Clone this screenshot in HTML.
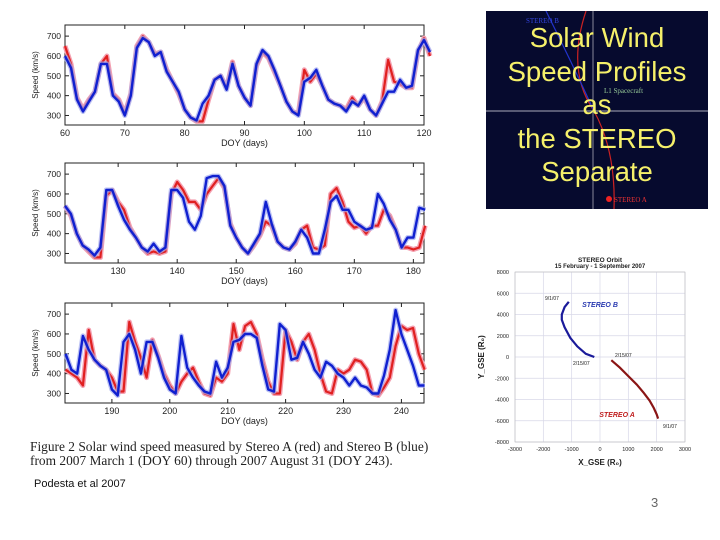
<!DOCTYPE html>
<html><head><meta charset="utf-8">
<style>
body{margin:0;width:720px;height:540px;background:#fff;position:relative;overflow:hidden;font-family:"Liberation Sans",sans-serif}
.abs{position:absolute}
</style></head><body>
<svg id="main" class="abs" style="left:0;top:0" width="720" height="540" xmlns="http://www.w3.org/2000/svg"></svg>
<div class="abs" style="left:486px;top:11px;width:222px;height:198px;background:#060a2e;overflow:hidden">
<svg width="222" height="198" style="position:absolute;left:0;top:0">
<line x1="0" y1="100" x2="222" y2="100" stroke="#aab" stroke-width="1"/>
<line x1="107" y1="0" x2="107" y2="198" stroke="#889" stroke-width="1"/>
<path d="M100,0 Q80,60 108,100 Q130,140 128,198" fill="none" stroke="#c22" stroke-width="1.2"/>
<path d="M60,0 Q85,50 108,100" fill="none" stroke="#23c" stroke-width="1.2"/>
<circle cx="123" cy="188" r="3" fill="#e22"/>
<text x="128" y="191" font-size="7" fill="#e33" font-family="Liberation Serif">STEREO A</text>
<text x="40" y="12" font-size="7" fill="#34d" font-family="Liberation Serif">STEREO B</text>
<text x="118" y="82" font-size="7" fill="#9c9" font-family="Liberation Serif">L1 Spacecraft</text>
</svg>
<div style="position:absolute;left:0;top:10px;width:222px;text-align:center;color:#f5f06a;font-size:27.5px;line-height:33.6px">Solar Wind<br>Speed Profiles<br>as<br>the STEREO<br>Separate</div>
</div>
<div class="abs" style="left:30px;top:440px;width:430px;white-space:nowrap;font-family:'Liberation Serif',serif;font-size:13.4px;line-height:14px;color:#222">Figure 2 Solar wind speed measured by Stereo A (red) and Stereo B (blue)<br>from 2007 March 1 (DOY 60) through 2007 August 31 (DOY 243).</div>
<div class="abs" style="left:34px;top:478px;font-size:11px;color:#111">Podesta et al 2007</div>
<div class="abs" style="left:651px;top:495px;font-size:13px;color:#666">3</div>
<script>
// Panel 1 data (DOY 60-121)
const p1Start=60;
const p1Blue=[600,540,380,320,370,420,560,560,400,370,300,400,640,690,670,600,620,520,470,420,330,290,275,360,400,480,500,430,560,450,390,350,560,630,600,530,450,370,320,300,470,490,530,450,380,360,350,320,370,350,400,330,300,360,420,420,480,440,450,630,680,620];
const p1Red=[650,560,390,330,380,420,560,600,410,380,310,410,650,700,670,610,620,530,470,410,330,290,270,270,380,480,500,440,570,450,390,350,550,620,590,520,450,370,320,310,530,470,510,450,380,360,350,330,390,350,390,330,300,370,580,470,460,440,440,620,690,600];
// Panel 2 data (DOY 121-182)
const p2Start=121;
const p2Blue=[540,500,400,340,320,290,330,620,620,540,470,420,380,330,310,350,310,330,620,620,580,460,420,490,680,690,690,640,440,380,330,300,350,400,560,450,360,330,320,360,420,380,300,300,420,560,590,520,520,460,440,420,430,600,550,470,420,330,380,380,530,520];
const p2Red=[540,490,400,340,310,280,280,590,620,560,520,430,380,330,300,310,300,310,600,660,620,560,560,520,600,640,680,630,450,380,330,300,340,390,460,440,360,330,320,350,420,440,330,320,340,600,630,560,460,430,440,400,440,440,520,490,420,330,330,320,330,440];
// Panel 3 data (DOY 182-244)
const p3Start=182;
const p3Blue=[500,420,400,590,520,470,440,420,320,290,560,600,520,400,560,560,480,380,320,300,590,430,380,340,310,300,460,380,430,560,570,600,600,580,440,320,310,650,620,470,480,560,500,420,380,460,440,400,380,340,380,340,330,300,300,390,520,720,600,520,440,340,340];
const p3Red=[420,400,380,340,620,470,440,420,380,310,310,660,560,480,380,570,490,400,340,300,360,400,430,360,300,290,380,360,400,650,520,640,660,600,470,360,300,300,620,560,470,560,600,520,400,310,300,420,400,420,470,460,420,300,290,330,380,540,640,620,630,500,420];
const yTicks=[300,400,500,600,700];
const p1XTicks=[60,70,80,90,100,110,120];
const p2XTicks=[130,140,150,160,170,180];
const p3XTicks=[190,200,210,220,230,240];
// Orbit data
const orbitXTicks=[-3000,-2000,-1000,0,1000,2000,3000];
const orbitYTicks=[8000,6000,4000,2000,0,-2000,-4000,-6000,-8000];
const bX=[-200,-500,-800,-1050,-1250,-1350,-1350,-1250,-1100];
const bY=[0,300,1000,1800,2800,3500,4000,4700,5200];
const aX=[400,700,1000,1300,1550,1750,1900,2000,2050];
const aY=[-300,-1000,-1800,-2600,-3400,-4100,-4800,-5400,-5800];

const NS='http://www.w3.org/2000/svg';
const svg=document.getElementById('main');
function mk(tag,attrs,parent){const e=document.createElementNS(NS,tag);for(const k in attrs)e.setAttribute(k,attrs[k]);(parent||svg).appendChild(e);return e;}
function txt(x,y,s,size,anchor,parent,extra){const t=mk('text',Object.assign({x:x,y:y,'font-size':size,'text-anchor':anchor||'middle',fill:'#222','font-family':'Liberation Sans, sans-serif'},extra||{}),parent);t.textContent=s;return t;}

function panel(idx,top,xmin,xmax,start,blue,red,xt){
  const L=65,R=424,T=top,B=top+100;
  const g=mk('g',{});
  
  
  const xs=d=>L+(d-xmin)/(xmax-xmin)*(R-L);
  const ys=v=>B-(v-252)/(756-252)*(B-T);
  mk('rect',{x:L,y:T,width:R-L,height:B-T,fill:'#fff',stroke:'#222','stroke-width':1},g);
  xt.forEach(d=>{const x=xs(d);mk('line',{x1:x,y1:B,x2:x,y2:B-4,stroke:'#222'},g);mk('line',{x1:x,y1:T,x2:x,y2:T+4,stroke:'#222'},g);
    const t=txt(x,B+11,String(d),9,'middle',g);});
  yTicks.forEach(v=>{const y=ys(v);mk('line',{x1:L,y1:y,x2:L+4,y2:y,stroke:'#222'},g);mk('line',{x1:R,y1:y,x2:R-4,y2:y,stroke:'#222'},g);
    const t=txt(L-4,y+3,String(v),8.5,'end',g);});
  const xl=txt((L+R)/2,B+21,'DOY (days)',9,'middle',g);
  const yl=txt(0,0,'Speed (km/s)',8,'middle',g,{transform:'translate('+(L-27)+','+(T+50)+') rotate(-90)'});
  
  const pts=arr=>arr.map((v,i)=>xs(start+i).toFixed(1)+','+ys(v).toFixed(1)).join(' ');
  const r1=mk('polyline',{points:pts(red),fill:'none',stroke:'#f4a0b0','stroke-width':5,'stroke-linejoin':'round'},g);
  
  const r=mk('polyline',{points:pts(red),fill:'none',stroke:'#e02020','stroke-width':2.2,'stroke-linejoin':'round'},g);
  
  const b1=mk('polyline',{points:pts(blue),fill:'none',stroke:'#a0a8f0','stroke-width':5,'stroke-linejoin':'round',opacity:0.7},g);
  
  const b=mk('polyline',{points:pts(blue),fill:'none',stroke:'#1020d0','stroke-width':2.4,'stroke-linejoin':'round'},g);
  
}
panel(1,25,60,120,p1Start,p1Blue,p1Red,p1XTicks);
panel(2,163,121,181.8,p2Start,p2Blue,p2Red,p2XTicks);
panel(3,303,181.9,243.9,p3Start,p3Blue,p3Red,p3XTicks);

// Orbit plot
(function(){
  const g=mk('g',{});
  
  
  const L=515,R=685,T=272,B=442;
  const xs=v=>600+v/1000*28.33;
  const ys=v=>357-v/2000*21.25;
  orbitXTicks.forEach(v=>{const x=xs(v);mk('line',{x1:x,y1:T,x2:x,y2:B,stroke:'#d8d8e8','stroke-width':0.7},g);
    const t=txt(x,B+9,String(v),5.5,'middle',g);});
  orbitYTicks.forEach(v=>{const y=ys(v);mk('line',{x1:L,y1:y,x2:R,y2:y,stroke:'#d8d8e8','stroke-width':0.7},g);
    const t=txt(L-6,y+2,String(v),5.5,'end',g);});
  mk('rect',{x:L,y:T,width:R-L,height:B-T,fill:'none',stroke:'#bbb','stroke-width':0.6},g);
  const pts=(X,Y)=>X.map((v,i)=>xs(v).toFixed(1)+','+ys(Y[i]).toFixed(1)).join(' ');
  const pb=mk('polyline',{points:pts(bX,bY),fill:'none',stroke:'#1a1a9a','stroke-width':2.2},g);
  
  const pa=mk('polyline',{points:pts(aX,aY),fill:'none',stroke:'#8a1515','stroke-width':2.2},g);
  
  let t;
  t=txt(600,262,'STEREO Orbit',6.5,'middle',g,{'font-weight':'bold'});
  t=txt(600,268,'15 February - 1 September 2007',6,'middle',g,{'font-weight':'bold'});
  t=txt(600,465,'X_GSE (R\u2080)',8,'middle',g,{'font-weight':'bold'});
  t=txt(0,0,'Y_GSE (R\u2080)',8,'middle',g,{'font-weight':'bold',transform:'translate(484,357) rotate(-90)'});
  t=txt(600,307,'STEREO B',7,'middle',g,{fill:'#2a3ab0','font-weight':'bold','font-style':'italic'});
  t=txt(617,417,'STEREO A',7,'middle',g,{fill:'#c02020','font-weight':'bold','font-style':'italic'});
  t=txt(545,300,'9/1/07',5,'start',g);
  t=txt(573,365,'2/15/07',5,'start',g);
  t=txt(615,357,'2/15/07',5,'start',g);
  t=txt(663,428,'9/1/07',5,'start',g);
})();
</script>
</body></html>
